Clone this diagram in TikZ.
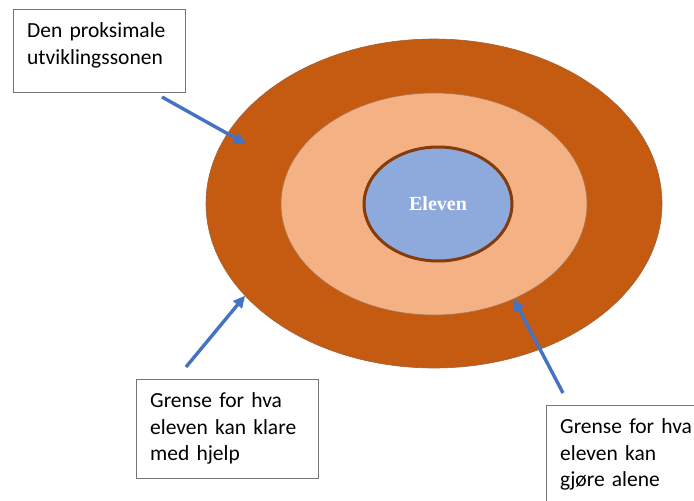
\documentclass[tikz,border=0pt]{standalone}
\usepackage{fontspec}
\setmainfont{Carlito}
\newfontfamily\elevfont{Liberation Serif}
\usetikzlibrary{arrows.meta,shapes.geometric}
\definecolor{rust}{HTML}{C55A11}
\definecolor{peach}{HTML}{F4B183}
\definecolor{sky}{HTML}{8EA9DB}
\definecolor{darkbrown}{HTML}{843C0C}
\definecolor{arrowblue}{HTML}{4472C4}
\definecolor{frame}{HTML}{767676}
\tikzset{
 zone/.style={ellipse,inner sep=0pt,outer sep=0pt},
 callout/.style={draw=frame,line width=1.4pt,fill=white,anchor=north west,align=left,inner xsep=13.5pt,inner ysep=12pt,text height=16pt,font=\fontsize{21.5}{26.5}\selectfont},
 pointer/.style={-{Triangle[length=12pt,width=11pt]},line width=3.4pt,draw=arrowblue}
}

\begin{document}
\begin{tikzpicture}[x=1pt,y=-1pt]
\useasboundingbox (0,0) rectangle (694,501);
% ringene
\node[zone,fill=rust,draw=darkbrown!80,line width=0.6pt,minimum width=456pt,minimum height=329pt] (outer) at (434,203.5) {};
\node[zone,fill=peach,draw=darkbrown!70,line width=0.6pt,minimum width=306pt,minimum height=222pt] (middle) at (434,204) {};
\node[zone,fill=sky,draw=darkbrown,line width=3pt,minimum width=148pt,minimum height=114pt,text=white,font=\elevfont\bfseries\fontsize{20}{24}\selectfont] (inner) at (438,204) {Eleven};
% tekstboksene
\node[callout,text width=145pt,text depth=43pt] (zpd) at (13,9) {Den proksimale\\utviklingssonen};
\node[callout,text width=155pt,text depth=59pt] (help) at (136,379) {Grense for hva\\eleven kan klare\\med hjelp};
\node[callout,text width=140pt,text depth=70pt] (alone) at (546,405) {Grense for hva\\eleven kan\\gjøre alene};
% piler
\coordinate (zpdtail) at (162,97);
\coordinate (zpdtip) at (246,144);
\coordinate (helptail) at (186,367);
\coordinate (alonetail) at (563,393);
\draw[pointer] (zpdtail) -- (zpdtip);
\draw[pointer] (helptail) -- (outer.206.7);
\draw[pointer] (alonetail) -- (middle.310.4);
\end{tikzpicture}
\end{document}
